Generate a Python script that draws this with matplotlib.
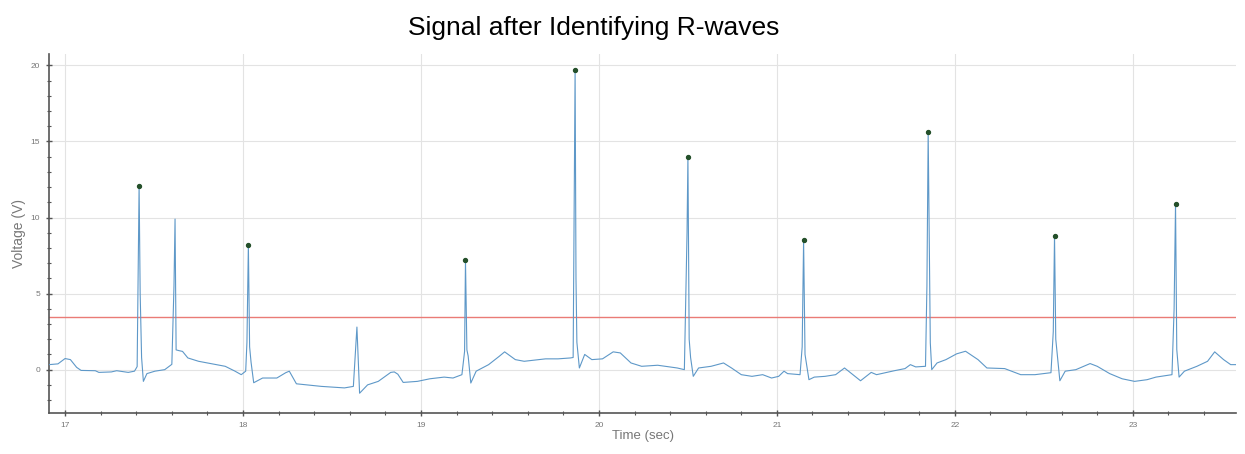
import numpy as np
import matplotlib
matplotlib.use("Agg")
from matplotlib import pyplot as plt
from matplotlib.ticker import MultipleLocator

plt.rcParams['font.family'] = ['Liberation Sans', 'DejaVu Sans']

# ECG signal (time in sec, voltage in V)
sig_t = [16.91, 16.96, 17.00, 17.03, 17.065, 17.09, 17.17, 17.19, 17.26, 17.29, 17.355, 17.39,
         17.405, 17.41, 17.416, 17.422, 17.43, 17.44, 17.46, 17.505, 17.56, 17.60,
         17.612, 17.618, 17.624, 17.64, 17.66, 17.69, 17.75, 17.80, 17.90, 17.955, 17.99,
         18.015, 18.022, 18.03, 18.037, 18.045, 18.06, 18.11, 18.19, 18.24, 18.26, 18.30,
         18.44, 18.57, 18.62, 18.64, 18.655, 18.70, 18.76, 18.83, 18.85, 18.87, 18.90, 18.98,
         19.05, 19.13, 19.18, 19.23, 19.245, 19.25, 19.258, 19.265, 19.28, 19.31, 19.38, 19.44,
         19.47, 19.53, 19.58, 19.70, 19.77, 19.84, 19.855, 19.862, 19.866, 19.871, 19.876, 19.89,
         19.92, 19.96, 20.02, 20.08, 20.12, 20.18, 20.24, 20.33, 20.44, 20.48, 20.495, 20.50,
         20.507, 20.515, 20.53, 20.56, 20.63, 20.70, 20.745, 20.80, 20.86, 20.92, 20.97, 21.01,
         21.04, 21.06, 21.13, 21.142, 21.15, 21.158, 21.18, 21.21, 21.27, 21.33, 21.38, 21.47,
         21.53, 21.56, 21.66, 21.72, 21.75, 21.78, 21.835, 21.843, 21.85, 21.856, 21.862, 21.87,
         21.90, 21.95, 22.01, 22.06, 22.13, 22.18, 22.28, 22.37, 22.45, 22.54, 22.553, 22.56,
         22.567, 22.59, 22.62, 22.68, 22.76, 22.80, 22.87, 22.94, 23.01, 23.08, 23.13, 23.22,
         23.232, 23.24, 23.247, 23.26, 23.29, 23.36, 23.42, 23.46, 23.51, 23.55, 23.58]
sig_v = [0.33, 0.38, 0.73, 0.66, 0.15, -0.05, -0.07, -0.18, -0.15, -0.07, -0.18, -0.1,
         0.2, 5.5, 12.1, 5.0, 0.8, -0.77, -0.26, -0.1, 0.0, 0.35,
         5.5, 9.9, 1.3, 1.25, 1.2, 0.77, 0.55, 0.44, 0.22, -0.1, -0.33,
         -0.1, 1.8, 8.2, 1.5, 0.5, -0.86, -0.55, -0.55, -0.2, -0.1, -0.93,
         -1.1, -1.2, -1.1, 2.8, -1.55, -1.0, -0.77, -0.18, -0.15, -0.3, -0.84, -0.77,
         -0.6, -0.49, -0.55, -0.33, 1.2, 7.2, 1.3, 0.9, -0.88, -0.1, 0.33, 0.88,
         1.17, 0.66, 0.55, 0.71, 0.71, 0.77, 0.8, 13.0, 19.7, 6.0, 1.8, 0.11,
         1.0, 0.66, 0.71, 1.17, 1.1, 0.44, 0.22, 0.29, 0.11, 0.0, 9.0, 14.0,
         2.0, 0.8, -0.44, 0.11, 0.22, 0.44, 0.11, -0.33, -0.44, -0.33, -0.55, -0.44,
         -0.1, -0.26, -0.33, 1.5, 8.5, 1.0, -0.66, -0.49, -0.44, -0.33, 0.11, -0.73,
         -0.18, -0.33, -0.07, 0.07, 0.33, 0.18, 0.22, 5.5, 15.6, 8.5, 1.77, 0.0,
         0.44, 0.66, 1.04, 1.21, 0.66, 0.11, 0.07, -0.33, -0.33, -0.2, 2.5, 8.8,
         2.0, -0.73, -0.1, 0.0, 0.4, 0.22, -0.26, -0.6, -0.77, -0.66, -0.49, -0.33,
         4.0, 10.9, 1.32, -0.49, -0.1, 0.22, 0.55, 1.17, 0.66, 0.33, 0.33]

# detected R-wave peaks
peak_t = [17.416, 18.03, 19.25, 19.866, 20.50, 21.15, 21.85, 22.56, 23.24]
peak_v = [12.1, 8.2, 7.2, 19.7, 14.0, 8.5, 15.6, 8.8, 10.9]

threshold = 3.45

fig = plt.figure(figsize=(12.45, 4.54), dpi=100)
ax = fig.add_axes([0.0394, 0.0903, 0.9534, 0.7907])

ax.plot(sig_t, sig_v, color='#5e98c8', lw=0.8, zorder=3)
ax.scatter(peak_t, peak_v, s=8, color='#24502a', zorder=4)
ax.axhline(threshold, color='#ea7b76', lw=1.0, zorder=2)

ax.set_xlim(16.91, 23.58)
ax.set_ylim(-2.85, 20.75)
ax.xaxis.set_major_locator(MultipleLocator(1))
ax.xaxis.set_minor_locator(MultipleLocator(0.2))
ax.yaxis.set_major_locator(MultipleLocator(5))
ax.yaxis.set_minor_locator(MultipleLocator(1))
ax.grid(which='major', color='#e3e3e3', lw=0.8)
ax.set_axisbelow(True)

for s in ['top', 'right']:
    ax.spines[s].set_visible(False)
for s in ['left', 'bottom']:
    ax.spines[s].set_color('#555555')
    ax.spines[s].set_linewidth(1.2)
ax.tick_params(which='major', direction='inout', length=5, width=1, color='#555555',
               labelsize=6, labelcolor='#777777', pad=4)
ax.tick_params(which='minor', direction='inout', length=3, width=0.8, color='#555555')

ax.set_xlabel('Time (sec)', fontsize=9.5, color='#777777', labelpad=1)
ax.set_ylabel('Voltage (V)', fontsize=10, color='#777777', labelpad=3)

fig.text(0.477, 0.965, 'Signal after Identifying R-waves', fontsize=19, ha='center', va='top')

plt.savefig('out.png', dpi=100)
